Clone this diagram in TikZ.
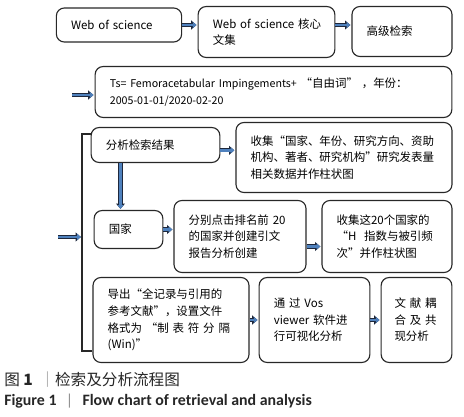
\documentclass[tikz,border=0pt]{standalone}
\usepackage{fontspec}
\setmainfont{Noto Sans CJK SC}
\newfontfamily\capenfont{Carlito}
\usetikzlibrary{arrows.meta,positioning}
\definecolor{arrowblue}{RGB}{79,129,189}
\definecolor{arrowedge}{RGB}{30,40,60}
\definecolor{boxline}{RGB}{40,40,40}
\newcommand{\spreadline}[1]{\makebox[\linewidth][s]{#1}}

\begin{document}
\begin{tikzpicture}[
    x=0.75pt,
    y=-0.75pt,
    stepbox/.style={
      draw=boxline,
      line width=0.85pt,
      rounded corners=6pt,
      align=left,
      inner xsep=11pt,
      inner ysep=0pt,
      font=\fontsize{8.6}{12.4}\selectfont
    },
    flow/.style={draw=arrowblue, line width=1.9pt, shorten >=0.8pt,
      -{Triangle[length=2.8pt,width=4.4pt]},
      preaction={draw=arrowedge, line width=3.2pt, -{Triangle[length=4pt,width=6.6pt]}}},
    bracket/.style={draw=boxline, line width=0.8pt},
    caption/.style={anchor=west, inner sep=0pt, text=black!85}
  ]
  \useasboundingbox (0,0) rectangle (464,417);

  \node[stepbox, text width=72pt, minimum height=25.5pt] (wos) at (119,25) {Web of science};
  \node[stepbox, text width=80.5pt, minimum height=38.25pt] (core) at (266.5,32)
    {\spreadline{Web of science 核心}\\文集};
  \node[stepbox, text width=53pt, minimum height=37.5pt] (adv) at (402,31.5) {高级检索};

  \node[stepbox, text width=245.5pt, minimum height=38.25pt] (query) at (273.5,92)
    {{\fontsize{8}{12.4}\selectfont Ts= Femoracetabular Impingements+} “自由词” ，年份：\\{\fontsize{8}{12.4}\selectfont 2005-01-01/2020-02-20}};

  \node[stepbox, text width=74.5pt, minimum height=26.25pt] (result) at (155.5,145) {分析检索结果};
  \node[stepbox, text width=140pt, minimum height=52.5pt] (collect) at (344,157.5)
    {收集“国家、年份、研究方向、资助\\机构、著者、研究机构”研究发表量\\相关数据并作柱状图};

  \node[stepbox, text width=29.5pt, minimum height=28.5pt] (country) at (128.5,229.5) {国家};
  \node[stepbox, text width=77pt, minimum height=54pt] (report) at (240,236.5)
    {分别点击排名前 20\\的国家并创建引文\\报告分析创建};
  \node[stepbox, text width=75.5pt, minimum height=54pt] (hindex) at (387,236.5)
    {收集这20个国家的\\“H\ \ 指数与被引频\\次”并作柱状图};

  \node[stepbox, text width=95pt, minimum height=63.75pt] (export) at (171,320)
    {导出“全记录与引用的\\参考文献”，设置文件\\\spreadline{格式为 “制 表 符 分 隔}\\(Win)”};
  \node[stepbox, text width=61pt, minimum height=63.75pt] (vos) at (314.5,320)
    {\spreadline{通 过 Vos}\\\spreadline{viewer 软件进}\\行可视化分析};
  \node[stepbox, inner xsep=10pt, text width=33pt, minimum height=63.75pt] (couple) at (416.5,320)
    {\spreadline{文 献 耦}\\\spreadline{合 及 共}\\现分析};

  \coordinate (inquery) at (72,95);
  \coordinate (brtop) at (82,134);
  \coordinate (brbot) at (82,351);
  \coordinate (inbr) at (58,237);

  \draw[flow] (wos.east) -- (wos.east -| core.west);
  \draw[flow] (core.east |- wos.east) -- (adv.west |- wos.east);
  \draw[flow] (inquery) -- (inquery -| query.west);
  \draw[bracket] (result.west |- brtop) -- (brtop) -- (brbot) -- (export.west |- brbot);
  \draw[flow] (inbr) -- (inbr -| brtop);
  \draw[flow] ([yshift=-4pt]result.east) -- ([yshift=-4pt]result.east -| collect.west);
  \draw[flow] ([xshift=-6pt]country.north |- result.south) -- ([xshift=-6pt]country.north);
  \draw[flow] (country.east) -- (country.east -| report.west);
  \draw[flow] ([yshift=-7.5pt]report.east) -- ([yshift=-7.5pt]report.east -| hindex.west);
  \draw[flow] (export.east) -- (vos.west);
  \draw[flow] (vos.east) -- (couple.west);

  \node[caption, font=\fontsize{11.7}{14}\selectfont] (capzh) at (4,380)
    {图 \textbf{1}\hspace{5pt}{\color{black!45}｜}检索及分析流程图};
  \node[caption, font=\capenfont\bfseries\fontsize{11.9}{14}\selectfont] (capen) at (4,401)
    {Figure 1\hspace{7pt}{\mdseries\color{black!45}|}\hspace{7pt}Flow chart of retrieval and analysis};
\end{tikzpicture}
\end{document}
